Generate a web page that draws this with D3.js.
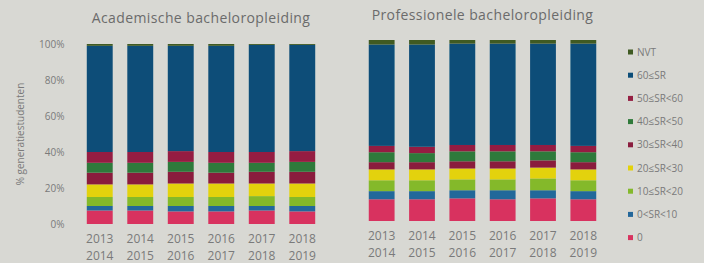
<!DOCTYPE html>
<html>
<head>
<meta charset="utf-8">
<script src="https://cdn.jsdelivr.net/npm/d3@7"></script>
<style>
  body { margin: 0; background: #d8d8d3; }
  text { font-family: "Open Sans", "DejaVu Sans", sans-serif; }
</style>
</head>
<body>
<div id="chart"></div>
<script>
// categories (bottom to top of the stack)
var categories = ["0", "0<SR<10", "10≤SR<20", "20≤SR<30", "30≤SR<40", "40≤SR<50", "50≤SR<60", "60≤SR", "NVT"];
var colors = ["#d8335f", "#23679a", "#84b92c", "#e3d20a", "#8a1d3e", "#2f7a3a", "#951f42", "#0c4d78", "#3f5a22"];
var years = ["2013-2014", "2014-2015", "2015-2016", "2016-2017", "2017-2018", "2018-2019"];
var yTicks = [0, 20, 40, 60, 80, 100];

// academic bachelor, % per category per year
var acad_0     = [7.5, 7.5, 7, 7, 7.5, 7];
var acad_0_10  = [2.5, 2.5, 3, 3, 2.5, 3];
var acad_10_20 = [5, 5, 5, 5, 5.5, 5];
var acad_20_30 = [7, 7, 7.5, 7.5, 7, 7.5];
var acad_30_40 = [6.5, 6.5, 6.5, 6, 6.5, 6.5];
var acad_40_50 = [5.5, 5.5, 5.5, 5.5, 5, 5.5];
var acad_50_60 = [6, 6, 6, 6, 6, 6];
var acad_60    = [59, 59, 58.5, 59, 59.5, 59];
var acad_nvt   = [1, 1, 1, 1, 0.5, 0.5];

// professional bachelor
var prof_0     = [12, 12, 12.5, 12, 12.5, 12];
var prof_0_10  = [4.5, 4.5, 4.5, 5, 4.5, 4.5];
var prof_10_20 = [6, 6, 6, 6, 6.5, 6];
var prof_20_30 = [6, 6, 6, 6, 6, 6];
var prof_30_40 = [4, 4, 4, 4, 4, 4];
var prof_40_50 = [5.5, 5, 5.5, 5.5, 5, 5.5];
var prof_50_60 = [3.5, 3.5, 3.5, 3.5, 3.5, 3.5];
var prof_60    = [56, 56.5, 56, 56, 56, 56.5];
var prof_nvt   = [2.5, 2.5, 2, 2, 2, 2];

var acadSeries = [acad_0, acad_0_10, acad_10_20, acad_20_30, acad_30_40, acad_40_50, acad_50_60, acad_60, acad_nvt];
var profSeries = [prof_0, prof_0_10, prof_10_20, prof_20_30, prof_30_40, prof_40_50, prof_50_60, prof_60, prof_nvt];

var width = 704, height = 263;

var svg = d3.select("#chart")
  .append("svg")
  .attr("width", width)
  .attr("height", height);

svg.append("rect").attr("width", width).attr("height", height).attr("fill", "#d8d8d3");

// soft photo look
var defs = svg.append("defs");
defs.append("filter").attr("id", "soft")
  .append("feGaussianBlur").attr("stdDeviation", 0.7);

function toRows(series) {
  return years.map(function(y, i) {
    var row = {year: y};
    categories.forEach(function(c, k) { row[c] = series[k][i]; });
    return row;
  });
}

var color = d3.scaleOrdinal().domain(categories).range(colors);
var stack = d3.stack().keys(categories);

function drawPanel(series, title, xRange, yRange, titleY, showAxis) {
  var x = d3.scaleBand()
    .domain(years)
    .range(xRange)
    .paddingInner(0.36)
    .paddingOuter(0.18);

  var y = d3.scaleLinear()
    .domain([0, 100])
    .range(yRange);

  var g = svg.append("g");

  // title
  g.append("text")
    .attr("x", (xRange[0] + xRange[1]) / 2)
    .attr("y", titleY)
    .attr("text-anchor", "middle")
    .style("font-size", "14px")
    .style("letter-spacing", "0.4px")
    .style("fill", "#6b6b6b")
    .text(title);

  if (showAxis) {
    var yAxis = g.append("g")
      .attr("transform", "translate(" + (xRange[0] - 12) + ",0)")
      .call(d3.axisLeft(y).tickValues(yTicks).tickSize(0).tickFormat(function(d) { return d + "%"; }));
    yAxis.select(".domain").remove();
    yAxis.selectAll("text")
      .style("font-size", "10px")
      .style("fill", "#7a7a7a")
      .style("font-family", "'Open Sans', sans-serif");

    g.append("text")
      .attr("transform", "rotate(-90)")
      .attr("x", -(yRange[0] + yRange[1]) / 2)
      .attr("y", 24)
      .attr("text-anchor", "middle")
      .style("font-size", "10px")
      .style("fill", "#7a7a7a")
      .text("% generatiestudenten");
  }

  var layers = stack(toRows(series));

  g.append("g")
    .attr("filter", "url(#soft)")
    .selectAll("g")
    .data(layers)
    .enter()
    .append("g")
      .attr("fill", function(d) { return color(d.key); })
    .selectAll("rect")
    .data(function(d) { return d; })
    .enter()
    .append("rect")
      .attr("x", function(d) { return x(d.data.year); })
      .attr("y", function(d) { return y(d[1]); })
      .attr("width", x.bandwidth())
      .attr("height", function(d) { return y(d[0]) - y(d[1]); });

  // two-line year labels
  var xl = g.selectAll(".xl")
    .data(years)
    .enter()
    .append("text")
      .attr("class", "xl")
      .attr("text-anchor", "middle")
      .style("font-size", "12px")
      .style("fill", "#7a7a7a");
  xl.append("tspan")
    .attr("x", function(d) { return x(d) + x.bandwidth() / 2; })
    .attr("y", yRange[0] + 19)
    .text(function(d) { return d.split("-")[0]; });
  xl.append("tspan")
    .attr("x", function(d) { return x(d) + x.bandwidth() / 2; })
    .attr("y", yRange[0] + 36)
    .text(function(d) { return d.split("-")[1]; });
}

drawPanel(acadSeries, "Academische bacheloropleiding", [79.5, 322.5], [224, 44], 23, true);
drawPanel(profSeries, "Professionele bacheloropleiding", [361.5, 603.5], [221, 40], 20, false);

// legend, top category first
var legend = svg.append("g")
  .selectAll("g")
  .data(categories.slice().reverse())
  .enter()
  .append("g")
    .attr("transform", function(d, i) { return "translate(628," + (52 + i * 23.2) + ")"; });

legend.append("rect")
  .attr("x", 0)
  .attr("y", -2.5)
  .attr("width", 5)
  .attr("height", 5)
  .attr("fill", function(d) { return color(d); });

legend.append("text")
  .attr("x", 9)
  .attr("y", 3.5)
  .style("font-size", "10px")
  .style("fill", "#7a7a7a")
  .text(function(d) { return d; });
</script>
</body>
</html>
